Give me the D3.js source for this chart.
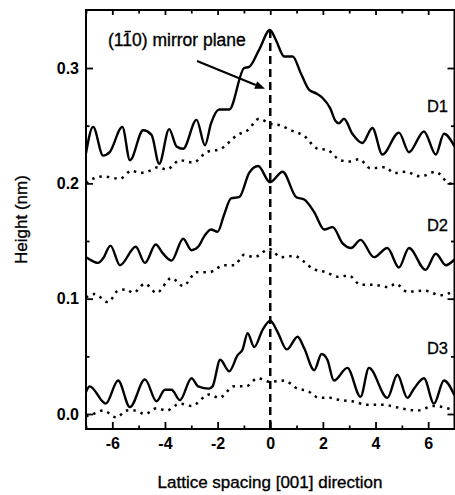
<!DOCTYPE html>
<html><head><meta charset="utf-8">
<script src="https://cdn.jsdelivr.net/npm/d3@7/dist/d3.min.js"></script>
<style>
html,body{margin:0;padding:0;background:#fff;}
svg{display:block;}
text{font-family:"Liberation Sans",Arial,sans-serif;fill:#000;}
</style></head><body>
<svg id="chart" width="455" height="495"></svg>
<script>
// ---- data (x in lattice spacings, y in nm) ----
const d1Solid = [[-7.0,0.226],[-6.73,0.249],[-6.35,0.224],[-6.10,0.227],[-5.62,0.249],[-5.33,0.220],[-4.83,0.246],[-4.51,0.242],[-4.22,0.217],[-3.84,0.247],[-3.56,0.232],[-3.31,0.230],[-2.80,0.255],[-2.48,0.233],[-2.25,0.252],[-1.94,0.264],[-1.56,0.264],[-0.99,0.300],[-0.80,0.301],[-0.42,0.316],[-0.01,0.333],[0.22,0.324],[0.53,0.310],[0.85,0.310],[1.17,0.295],[1.48,0.281],[1.74,0.278],[1.99,0.274],[2.28,0.265],[2.48,0.254],[2.61,0.252],[2.80,0.256],[3.12,0.243],[3.50,0.235],[3.88,0.248],[4.26,0.225],[4.89,0.244],[5.27,0.227],[5.84,0.245],[6.29,0.225],[6.60,0.243],[7.0,0.232]];
const d1Dotted = [[-7.0,0.200],[-6.73,0.204],[-6.35,0.206],[-5.71,0.204],[-5.27,0.211],[-4.95,0.209],[-4.57,0.211],[-4.26,0.214],[-3.94,0.212],[-3.43,0.220],[-2.93,0.218],[-2.42,0.227],[-1.87,0.230],[-1.24,0.242],[-0.86,0.246],[-0.42,0.256],[-0.04,0.252],[0.41,0.250],[0.79,0.246],[1.29,0.241],[1.80,0.230],[2.17,0.229],[2.67,0.220],[3.05,0.219],[3.37,0.221],[3.81,0.213],[4.38,0.214],[4.70,0.209],[5.14,0.210],[5.71,0.206],[6.29,0.210],[6.73,0.201],[7.0,0.199]];
const d2Solid = [[-7.0,0.136],[-6.86,0.134],[-6.54,0.131],[-6.35,0.135],[-6.07,0.146],[-5.71,0.129],[-5.11,0.145],[-4.76,0.131],[-4.35,0.147],[-4.07,0.139],[-3.75,0.133],[-3.31,0.152],[-2.99,0.142],[-2.74,0.145],[-2.51,0.154],[-2.25,0.160],[-2.00,0.158],[-1.75,0.173],[-1.49,0.187],[-1.18,0.188],[-0.80,0.209],[-0.46,0.215],[-0.01,0.201],[0.47,0.210],[0.99,0.188],[1.29,0.186],[1.67,0.175],[2.05,0.160],[2.37,0.162],[2.75,0.148],[3.07,0.144],[3.43,0.151],[3.94,0.136],[4.45,0.144],[4.89,0.127],[5.27,0.144],[5.90,0.125],[6.29,0.139],[6.67,0.129],[7.0,0.134]];
const d2Dotted = [[-7.0,0.101],[-6.67,0.104],[-6.16,0.097],[-5.78,0.107],[-5.46,0.108],[-5.21,0.105],[-4.76,0.113],[-4.32,0.105],[-3.75,0.118],[-3.31,0.111],[-2.80,0.123],[-2.32,0.123],[-1.75,0.129],[-1.37,0.129],[-0.99,0.138],[-0.61,0.136],[-0.04,0.143],[0.41,0.136],[0.91,0.137],[1.29,0.132],[1.61,0.126],[2.12,0.123],[2.55,0.119],[2.99,0.120],[3.43,0.112],[3.94,0.112],[4.51,0.110],[4.76,0.113],[5.21,0.106],[5.84,0.107],[6.48,0.103],[7.0,0.107]];
const d3Solid = [[-7.0,0.019],[-6.86,0.024],[-6.25,0.009],[-5.78,0.029],[-5.33,0.006],[-4.76,0.030],[-4.32,0.011],[-4.00,0.021],[-3.75,0.021],[-3.43,0.012],[-2.99,0.031],[-2.74,0.024],[-2.32,0.022],[-2.19,0.024],[-1.90,0.047],[-1.56,0.037],[-1.24,0.051],[-1.05,0.056],[-0.86,0.070],[-0.61,0.058],[-0.29,0.073],[0.00,0.081],[0.28,0.071],[0.63,0.056],[1.04,0.067],[1.29,0.057],[1.67,0.038],[1.95,0.052],[2.17,0.047],[2.42,0.029],[2.93,0.040],[3.43,0.015],[3.75,0.040],[4.45,0.014],[4.83,0.034],[5.21,0.014],[5.46,0.022],[5.84,0.031],[6.22,0.009],[6.60,0.029],[7.0,0.016]];
const d3Dotted = [[-7.0,-0.002],[-6.73,0.000],[-6.35,0.003],[-5.84,-0.003],[-5.46,0.003],[-5.14,0.003],[-4.76,0.000],[-4.32,0.005],[-3.94,0.003],[-3.43,0.009],[-2.99,0.007],[-2.32,0.017],[-1.94,0.014],[-1.37,0.024],[-0.92,0.024],[-0.48,0.031],[-0.04,0.028],[0.53,0.029],[1.04,0.022],[1.42,0.020],[1.86,0.014],[2.28,0.014],[2.67,0.012],[3.12,0.011],[3.69,0.008],[4.32,0.008],[4.76,0.006],[5.59,0.003],[6.22,0.007],[7.0,0.003]];
const seriesLabels = [["D1",0.262],["D2",0.159],["D3",0.052]];
const xMajorTicks = [-6,-4,-2,0,2,4,6];
const xMinorTicks = [-7,-5,-3,-1,1,3,5,7];
const yMajorTicks = [0.0,0.1,0.2,0.3];
const yMinorTicks = [0.05,0.15,0.25];
const mirrorX = 0;
const mirrorTop = 0.333;

// ---- layout ----
const svg = d3.select("#chart");
const L = 86, R = 454.5, T = 10, B = 429;
const x = d3.scaleLinear().domain([-7,7]).range([L,R]);
const y = d3.scaleLinear().domain([-0.013,0.3503]).range([B,T]);

const line = d3.line().x(d=>x(d[0])).y(d=>y(d[1])).curve(d3.curveMonotoneX);

svg.append("defs").append("clipPath").attr("id","clip")
  .append("rect").attr("x",L).attr("y",T).attr("width",R-L).attr("height",B-T);

const g = svg.append("g").attr("clip-path","url(#clip)");

// dashed mirror line
g.append("line").attr("x1",x(mirrorX)).attr("x2",x(mirrorX))
  .attr("y1",y(mirrorTop)).attr("y2",B)
  .attr("stroke","#000").attr("stroke-width",2.5).attr("stroke-dasharray","8,5");

[d1Solid,d2Solid,d3Solid].forEach(s=>{
  g.append("path").attr("d",line(s)).attr("fill","none").attr("stroke","#000")
   .attr("stroke-width",2.4).attr("stroke-linejoin","round");
});
[d1Dotted,d2Dotted,d3Dotted].forEach(s=>{
  g.append("path").attr("d",line(s)).attr("fill","none").attr("stroke","#000")
   .attr("stroke-width",2.5).attr("stroke-dasharray","2.5,5");
});

// axes (ticks inward)
function axisG(axis, tx, ty){ return svg.append("g").attr("transform",`translate(${tx},${ty})`).call(axis); }
const style = sel => { sel.select(".domain").remove(); sel.selectAll("line").attr("stroke","#000").attr("stroke-width",1.8); };

const bx = axisG(d3.axisBottom(x).tickValues(xMajorTicks).tickSize(-7).tickPadding(9).tickFormat(d=>d===0?"0":String(d)),0,B);
style(bx);
bx.selectAll("text").attr("font-size",16).attr("font-weight","bold").attr("font-family","Liberation Sans, Arial, sans-serif");
style(axisG(d3.axisBottom(x).tickValues(xMinorTicks).tickSize(-3.5).tickFormat(""),0,B));
style(axisG(d3.axisTop(x).tickValues(xMajorTicks).tickSize(-5).tickFormat(""),0,T));
style(axisG(d3.axisTop(x).tickValues(xMinorTicks).tickSize(-3.5).tickFormat(""),0,T));

const ly = axisG(d3.axisLeft(y).tickValues(yMajorTicks).tickSize(-7).tickPadding(7).tickFormat(d3.format(".1f")),L,0);
style(ly);
ly.selectAll("text").attr("font-size",16).attr("font-weight","bold").attr("font-family","Liberation Sans, Arial, sans-serif");
style(axisG(d3.axisLeft(y).tickValues(yMinorTicks).tickSize(-3.5).tickFormat(""),L,0));
style(axisG(d3.axisRight(y).tickValues(yMajorTicks).tickSize(-7).tickFormat(""),R,0));
style(axisG(d3.axisRight(y).tickValues(yMinorTicks).tickSize(-3.5).tickFormat(""),R,0));

// frame
svg.append("rect").attr("x",L).attr("y",T).attr("width",R-L).attr("height",B-T)
  .attr("fill","none").attr("stroke","#000").attr("stroke-width",2);

// axis titles
svg.append("text").attr("x",270).attr("y",488).attr("text-anchor","middle")
  .attr("font-size",17).attr("stroke","#000").attr("stroke-width",0.35)
  .text("Lattice spacing [001] direction");
svg.append("text").attr("transform",`translate(27,${(T+B)/2}) rotate(-90)`).attr("text-anchor","middle")
  .attr("font-size",17).attr("stroke","#000").attr("stroke-width",0.35).text("Height (nm)");

// series labels
seriesLabels.forEach(([t,v])=>{
  svg.append("text").attr("x",448).attr("y",y(v)).attr("text-anchor","end")
    .attr("font-size",16.5).attr("stroke","#000").attr("stroke-width",0.3).text(t);
});

// mirror plane annotation
const ann = svg.append("text").attr("x",108).attr("y",46).attr("font-size",17.5)
  .attr("stroke","#000").attr("stroke-width",0.35).text("(110) mirror plane");
const ext = ann.node().getExtentOfChar(2);
svg.append("line").attr("x1",ext.x+ext.width*0.25).attr("x2",ext.x+ext.width*0.9)
  .attr("y1",ext.y+1.5).attr("y2",ext.y+1.5).attr("stroke","#000").attr("stroke-width",1.5);

// arrow
const ax1 = 197, ay1 = 61, tipX = x(-0.2), tipY = y(0.282);
const ang = Math.atan2(tipY-ay1, tipX-ax1);
const hl = 10, hw = 4;
const bxp = tipX - hl*Math.cos(ang), byp = tipY - hl*Math.sin(ang);
svg.append("line").attr("x1",ax1).attr("y1",ay1).attr("x2",bxp).attr("y2",byp)
  .attr("stroke","#000").attr("stroke-width",2);
svg.append("path").attr("d",`M${tipX},${tipY}L${bxp - hw*Math.sin(ang)},${byp + hw*Math.cos(ang)}L${bxp + hw*Math.sin(ang)},${byp - hw*Math.cos(ang)}Z`)
  .attr("fill","#000");
</script>
</body></html>
